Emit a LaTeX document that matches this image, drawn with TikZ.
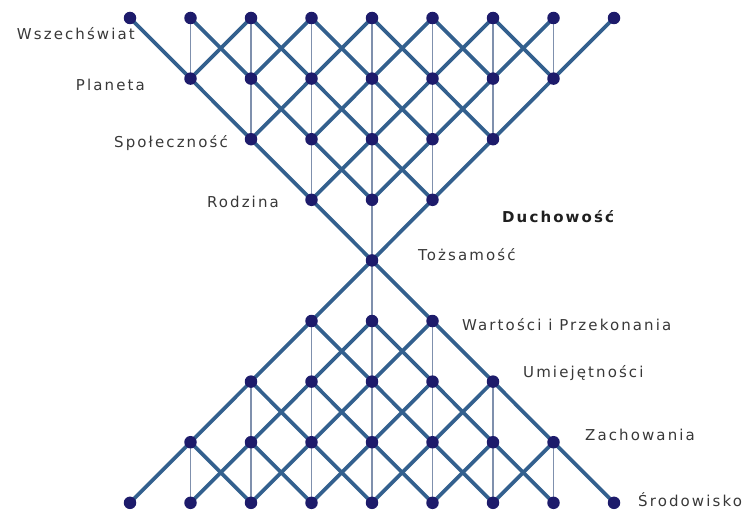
\documentclass[tikz,border=0pt]{standalone}
\usepackage{fontspec}
\usetikzlibrary{backgrounds}
\newfontfamily\lblfont[LetterSpace=14]{DejaVu Sans}
\definecolor{diagblue}{HTML}{33608E}
\definecolor{vertblue}{HTML}{7F90AD}
\definecolor{dotnavy}{HTML}{1D1B6B}
\definecolor{lbltext}{HTML}{383838}
\begin{document}
\begin{tikzpicture}[x=1pt,y=-1pt,
  dot/.style={circle,fill=dotnavy,inner sep=0pt,minimum size=12.5pt},
  diag/.style={draw=diagblue,line width=3.7pt},
  vert/.style={draw=vertblue,line width=1.6pt},
  lbl/.style={inner sep=0pt,text=lbltext,font=\lblfont\fontsize{15}{17}\selectfont},
  lblL/.style={lbl,anchor=base east},
  lblR/.style={lbl,anchor=base west}]
\useasboundingbox (0,0) rectangle (749,511);

% lattice points: row r holds columns i with |i-4| <= |r-4|
\foreach \r in {0,...,8}{
  \pgfmathtruncatemacro\hw{abs(\r-4)}
  \pgfmathtruncatemacro\ilo{4-\hw}
  \pgfmathtruncatemacro\ihi{4+\hw}
  \foreach \ii in {\ilo,...,\ihi}{
    \node[dot] (n\r-\ii) at ({372+60.5*(\ii-4)},{18+60.6*\r}) {};
  }
}

\begin{pgfonlayer}{background}
% thin vertical links
\foreach \r in {0,...,7}{
  \pgfmathtruncatemacro\hw{abs(\r-4)}
  \pgfmathtruncatemacro\hn{abs(\r-3)}
  \pgfmathtruncatemacro\rn{\r+1}
  \pgfmathtruncatemacro\ilo{4-\hw}
  \pgfmathtruncatemacro\ihi{4+\hw}
  \foreach \ii in {\ilo,...,\ihi}{
    \pgfmathtruncatemacro\ok{abs(\ii-4)<=\hn}
    \ifnum\ok=1 \draw[vert] (n\r-\ii.center) -- (n\rn-\ii.center);\fi
  }
}
% thick diagonal links
\foreach \r in {0,...,7}{
  \pgfmathtruncatemacro\hw{abs(\r-4)}
  \pgfmathtruncatemacro\hn{abs(\r-3)}
  \pgfmathtruncatemacro\rn{\r+1}
  \pgfmathtruncatemacro\ilo{4-\hw}
  \pgfmathtruncatemacro\ihi{4+\hw}
  \foreach \ii in {\ilo,...,\ihi}{
    \foreach \dd in {-1,1}{
      \pgfmathtruncatemacro\jj{\ii+\dd}
      \pgfmathtruncatemacro\ok{abs(\jj-4)<=\hn}
      \ifnum\ok=1 \draw[diag,line cap=round] (n\r-\ii.center) -- (n\rn-\jj.center);\fi
    }
  }
}
\end{pgfonlayer}

% level labels
\node[lblL] (wsz) at (135,40) {Wszechświat};
\node[lblL] (pla) at (145,90) {Planeta};
\node[lblL] (spo) at (228,147) {Społeczność};
\node[lblL] (rod) at (279,207) {Rodzina};
\node[lblR,text=black!88,font=\lblfont\bfseries\fontsize{15}{17}\selectfont] (duc) at (502,222) {Duchowość};
\node[lblR] (toz) at (418,260) {Tożsamość};
\node[lblR] (war) at (462,330) {Wartości i Przekonania};
\node[lblR] (umi) at (523,377) {Umiejętności};
\node[lblR] (zac) at (585,440) {Zachowania};
\node[lblR] (sro) at (638,506) {Środowisko};
\end{tikzpicture}
\end{document}
